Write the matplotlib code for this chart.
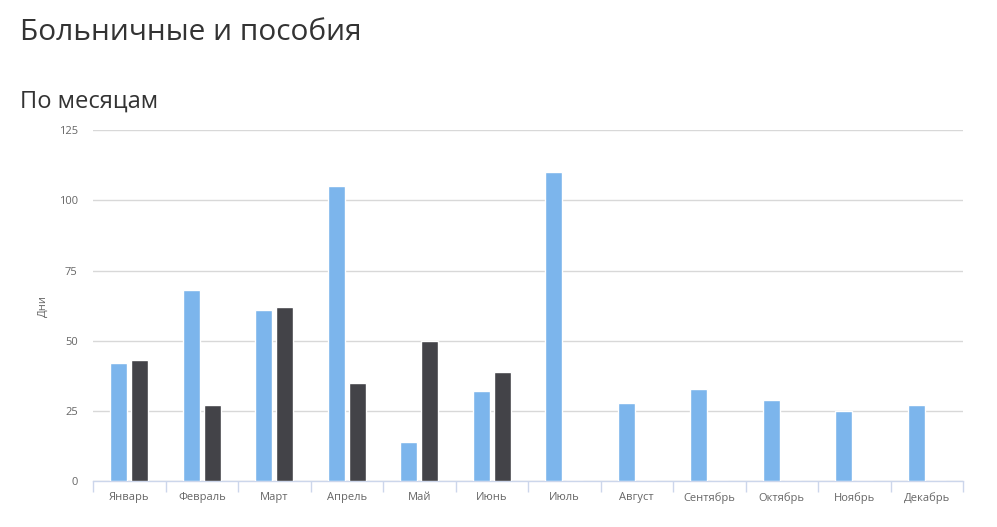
import matplotlib
matplotlib.use("Agg")
import matplotlib.pyplot as plt
import numpy as np

plt.rcParams['font.family'] = ['Open Sans', 'DejaVu Sans']

months = ["Январь", "Февраль", "Март", "Апрель", "Май", "Июнь",
          "Июль", "Август", "Сентябрь", "Октябрь", "Ноябрь", "Декабрь"]
series_a = [42, 68, 61, 105, 14, 32, 110, 28, 33, 29, 25, 27]
series_b = [43, 27, 62, 35, 50, 39, None, None, None, None, None, None]
y_ticks = [0, 25, 50, 75, 100, 125]
title = "Больничные и пособия"
subtitle = "По месяцам"
y_label = "Дни"

fig = plt.figure(figsize=(9.97, 5.27), dpi=100)
ax = fig.add_axes([0.0933, 0.0867, 0.8726, 0.6666])

x = np.arange(len(months))
w = 0.24
off = 0.145
a_vals = [v if v is not None else 0 for v in series_a]
b_vals = [v if v is not None else 0 for v in series_b]
ax.bar(x - off, a_vals, width=w, color="#7cb5ec", edgecolor="white", linewidth=1, zorder=3)
ax.bar(x + off, b_vals, width=w, color="#434348", edgecolor="white", linewidth=1, zorder=3)

ax.set_xlim(-0.5, len(months) - 0.5)
ax.set_ylim(0, 125)
ax.set_yticks(y_ticks)
ax.set_yticklabels([str(t) for t in y_ticks])
ax.yaxis.grid(True, color="#d8d8d8", linewidth=1, zorder=0)
ax.set_axisbelow(True)

for s in ["top", "right", "left"]:
    ax.spines[s].set_visible(False)
ax.spines["bottom"].set_color("#ccd6eb")
ax.spines["bottom"].set_linewidth(1)

ax.set_xticks(x)
ax.set_xticklabels(months, fontsize=8, color="#666666")
ax.tick_params(axis="x", length=0, pad=8)
ax.set_xticks(np.arange(len(months) + 1) - 0.5, minor=True)
ax.tick_params(axis="x", which="minor", length=8, color="#ccd6eb", width=1)
ax.tick_params(axis="y", length=0, pad=11, labelsize=8, labelcolor="#666666")

ax.set_ylabel(y_label, fontsize=8, color="#666666", labelpad=7)

fig.text(0.02, 0.925, title, fontsize=21.5, color="#333333", ha="left", va="baseline")
fig.text(0.02, 0.795, subtitle, fontsize=17, color="#333333", ha="left", va="baseline")

fig.savefig("out.png", dpi=100)
